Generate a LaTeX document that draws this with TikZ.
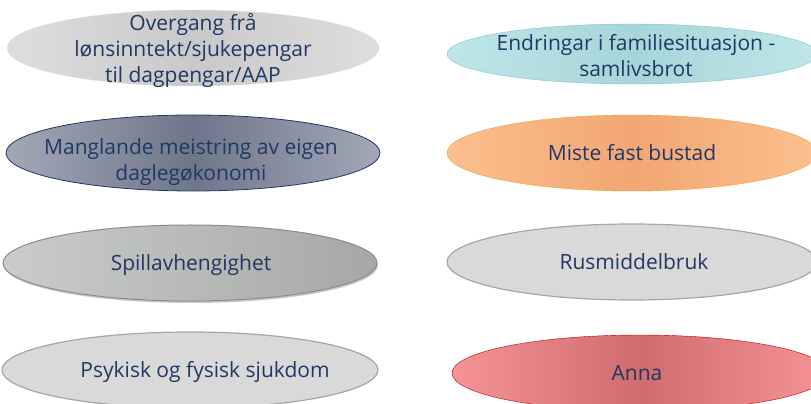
\documentclass[tikz,border=0pt]{standalone}
\usepackage{fontspec}
\setmainfont{Open Sans}
\usetikzlibrary{shapes.geometric}
\definecolor{navy}{HTML}{1F3864}
\definecolor{greyMid}{HTML}{C9C9C9}
\definecolor{greyEdge}{HTML}{DEDEDE}
\definecolor{tealMid}{HTML}{A7D5D9}
\definecolor{tealEdge}{HTML}{BFE6E9}
\definecolor{tealLine}{HTML}{7CC4CC}
\definecolor{slateMid}{HTML}{6F7689}
\definecolor{slateEdge}{HTML}{A3A8B8}
\definecolor{orangeMid}{HTML}{F2A673}
\definecolor{orangeEdge}{HTML}{FBC08E}
\definecolor{orangeLine}{HTML}{F0A030}
\definecolor{spillLeft}{HTML}{CACCCA}
\definecolor{spillRight}{HTML}{A6A8A6}
\definecolor{redMid}{HTML}{CF6C70}
\definecolor{redEdge}{HTML}{F59396}
\definecolor{redLine}{HTML}{C00000}
\tikzset{
  lbl/.style={text=navy, align=center, font=\fontsize{21}{26}\selectfont, inner sep=0pt},
  greyA/.style={draw=black!12, left color=greyEdge, right color=greyEdge, middle color=greyMid},
  tealA/.style={draw=tealLine, left color=tealEdge, right color=tealEdge, middle color=tealMid},
  slateA/.style={draw=navy, line width=.8pt, left color=slateEdge, right color=slateEdge, middle color=slateMid},
  orangeA/.style={draw=orangeLine, left color=orangeEdge, right color=orangeEdge, middle color=orangeMid},
  greyB/.style={draw=black!45, line width=1pt, left color=spillLeft, right color=spillRight},
  greyC/.style={draw=black!35, line width=1.2pt, fill=black!15},
  redA/.style={draw=redLine, left color=redEdge, right color=redEdge, middle color=redMid}
}
\begin{document}
\begin{tikzpicture}[x=1pt,y=1pt]
        \useasboundingbox (0,0) rectangle (811,404);
        % left column
        \shade[greyA] (193,356) ellipse (186 and 38);
        \shade[slateA] (193,251) ellipse (187 and 38);
        \fill[black!22] (191,139) ellipse (187 and 38);
        \shade[greyB] (190,141) ellipse (187 and 38);
        \draw[greyC] (190,34) ellipse (188 and 38);
        % right column
        \shade[tealA] (632,350) ellipse (185 and 30);
        \shade[orangeA] (632,251) ellipse (185 and 38);
        \draw[greyC] (632,142) ellipse (185 and 38);
        \shade[redA] (640,31) ellipse (188 and 38);
        % labels
        \node[lbl] (overgang) at (193,354) {Overgang frå\\lønsinntekt/sjukepengar\\til dagpengar/AAP};
        \node[lbl] (manglande) at (191,242) {Manglande meistring av eigen\\daglegøkonomi};
        \node[lbl] (spill) at (191,139) {Spillavhengighet};
        \node[lbl] (psykisk) at (205,32) {Psykisk og fysisk sjukdom};
        \node[lbl] (endringar) at (636,348) {Endringar i familiesituasjon -\\samlivsbrot};
        \node[lbl] (miste) at (632,251) {Miste fast bustad};
        \node[lbl] (rus) at (634,142) {Rusmiddelbruk};
        \node[lbl] (anna) at (637,31) {Anna};
      \end{tikzpicture}
\end{document}
